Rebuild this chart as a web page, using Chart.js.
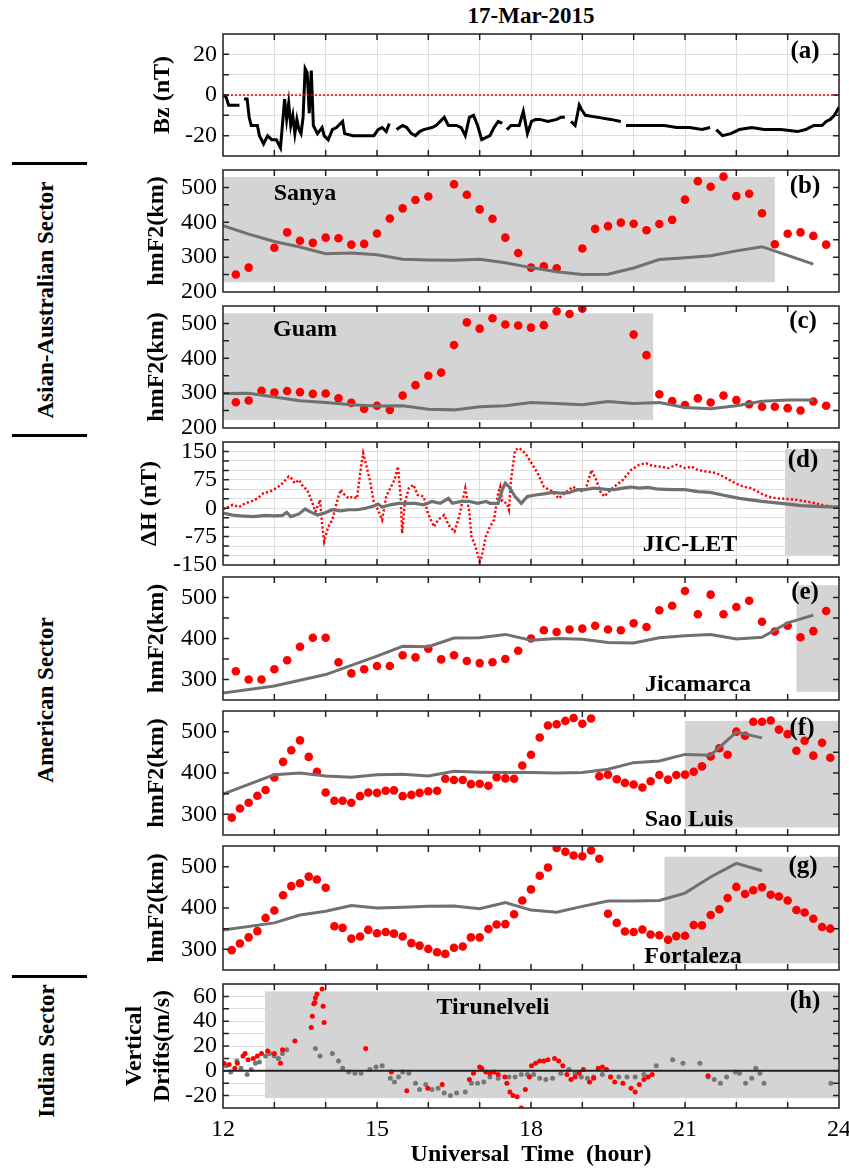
<!DOCTYPE html>
<html>
<head>
<meta charset="utf-8">
<script src="https://cdn.jsdelivr.net/npm/chart.js@4.4.1/dist/chart.umd.min.js"></script>
<style>
  body { margin: 0; background: #fff; }
  #page { position: relative; width: 849px; height: 1170px; font-family: 'Liberation Serif', 'Times New Roman', serif; overflow: hidden; }
  .panel { position: absolute; left: 120px; width: 729px; }
  .lbl { position: absolute; transform: translate(-50%, -50%); font-weight: bold; font-size: 24px; white-space: nowrap; color: #000; }
  .sector { transform: translate(-50%, -50%) rotate(-90deg); font-size: 23px; }
  .bar { position: absolute; left: 12px; width: 75px; height: 3px; background: #000; }
</style>
</head>
<body>
<div id="page">
  <div class="lbl" style="left:531px;top:16px;font-size:23px;">17-Mar-2015</div>

  <div class="bar" style="top:162px"></div>
  <div class="bar" style="top:434px"></div>
  <div class="bar" style="top:975px"></div>
  <div class="lbl sector" style="left:46px;top:300px;">Asian-Australian Sector</div>
  <div class="lbl sector" style="left:46px;top:700px;">American Sector</div>
  <div class="lbl sector" style="left:47px;top:1051px;">Indian Sector</div>

  <div class="panel" id="wrap-a"><canvas id="chart-a"></canvas></div>
  <div class="panel" id="wrap-b"><canvas id="chart-b"></canvas></div>
  <div class="panel" id="wrap-c"><canvas id="chart-c"></canvas></div>
  <div class="panel" id="wrap-d"><canvas id="chart-d"></canvas></div>
  <div class="panel" id="wrap-e"><canvas id="chart-e"></canvas></div>
  <div class="panel" id="wrap-f"><canvas id="chart-f"></canvas></div>
  <div class="panel" id="wrap-g"><canvas id="chart-g"></canvas></div>
  <div class="panel" id="wrap-h"><canvas id="chart-h"></canvas></div>

  <div class="lbl" style="left:805px;top:50px;font-size:25px;">(a)</div>
  <div class="lbl" style="left:805px;top:185px;font-size:25px;">(b)</div>
  <div class="lbl" style="left:803px;top:320px;font-size:25px;">(c)</div>
  <div class="lbl" style="left:803px;top:459px;font-size:25px;">(d)</div>
  <div class="lbl" style="left:805px;top:591px;font-size:25px;">(e)</div>
  <div class="lbl" style="left:802px;top:727px;font-size:25px;">(f)</div>
  <div class="lbl" style="left:803px;top:865px;font-size:25px;">(g)</div>
  <div class="lbl" style="left:805px;top:1000px;font-size:25px;">(h)</div>

  <div class="lbl" style="left:305px;top:192px;">Sanya</div>
  <div class="lbl" style="left:305px;top:328px;">Guam</div>
  <div class="lbl" style="left:690px;top:543px;">JIC-LET</div>
  <div class="lbl" style="left:698px;top:683px;">Jicamarca</div>
  <div class="lbl" style="left:689px;top:818px;">Sao Luis</div>
  <div class="lbl" style="left:693px;top:955px;">Fortaleza</div>
  <div class="lbl" style="left:493px;top:1006px;">Tirunelveli</div>
</div>

<script>
/* ── Data ── */

// (a) IMF Bz, nT (null = data gap)
const BZ_T = [12.00,12.06,12.11,12.27,12.32,12.36,12.41,12.47,12.51,12.55,12.67,12.71,12.79,12.87,12.95,13.04,13.08,13.12,
  13.20,13.24,13.28,13.32,13.36,13.40,13.44,13.48,13.52,13.56,13.60,13.64,13.68,13.72,13.76,13.84,13.93,13.97,
  14.05,14.13,14.21,14.29,14.33,14.37,14.53,14.69,14.86,14.94,15.02,15.10,15.18,15.24,15.30,15.38,15.50,15.58,
  15.67,15.75,15.83,15.91,16.07,16.15,16.31,16.39,16.47,16.55,16.64,16.72,16.80,16.88,16.96,17.04,17.12,17.20,
  17.28,17.36,17.44,17.48,17.53,17.61,17.69,17.77,17.85,17.93,18.01,18.09,18.17,18.33,18.50,18.58,18.66,18.72,
  18.78,18.86,18.94,18.98,19.06,19.31,19.55,19.75,19.80,19.85,19.95,20.20,20.36,20.60,20.84,21.09,21.33,21.49,
  21.55,21.61,21.73,21.89,22.06,22.30,22.54,22.87,23.19,23.35,23.51,23.67,23.75,23.83,23.91,24.00];
const BZ_V = [0,-1,-5,-5,-5,null,-2,-2,-11,-15,-15,-20,-24,-20,-22,-22,-24,-26,
  -2,-12,-4,-15,-10,-19,-12,-17,-19,-11,13,11,-9,12,-15,-19,-16,-20,
  -22,-17,-16,-14,-13,-19,-20,-20,-20,-20,-17,-16,-18,-14,null,-17,-15,-16,
  -19,-20,-18,-17,-16,-15,-11,-15,-15,-15,-16,-20,-11,-10,-15,-22,-21,-20,
  -16,-13,-14,null,-17,-15,-15,-15,-8,-19,-13,-12,-12,-13,-12,-11,-11,null,
  -13,-15,-5,-7,-10,-11,-12,-13,null,-15,-15,-15,-15,-15,-16,-16,-17,-16,
  null,-17,-20,-19,-17,-16,-17,-17,-18,-17,-15,-15,-13,-12,-10,-6];

// quarter-hour times used by Sanya, Guam, Jicamarca hmF2
const QT = [12.25,12.5,12.75,13,13.25,13.5,13.75,14,14.25,14.5,14.75,15,15.25,15.5,15.75,16,16.25,16.5,16.75,17,
  17.25,17.5,17.75,18,18.25,18.5,18.75,19,19.25,19.5,19.75,20,20.25,20.5,20.75,21,21.25,21.5,21.75,22,22.25,22.5,
  22.75,23,23.25,23.5,23.75];
// half-hour times for the quiet-day curves of Sanya and Guam
const HT = [12,12.5,13,13.5,14,14.5,15,15.5,16,16.5,17,17.5,18,18.5,19,19.5,20,20.5,21,21.5,22,22.5,23,23.5];

// (b) Sanya hmF2 (km)
const SANYA_STORM = [250,270,null,327,371,347,341,356,354,336,338,368,411,440,464,474,null,509,479,437,
  410,356,312,270,274,268,null,325,381,389,399,396,377,395,407,465,518,502,531,475,482,426,337,367,371,361,336];
const SANYA_QUIET = [390,366,345,329,310,312,307,294,292,291,294,284,270,258,250,251,269,293,298,304,318,330,305,280];

// (c) Guam hmF2 (km)
const GUAM_STORM = [274,279,307,302,306,303,298,299,285,272,255,264,252,293,323,350,359,438,503,485,
  515,497,494,488,495,535,527,542,null,null,null,468,409,297,277,266,285,273,293,280,268,261,261,257,250,276,264];
const GUAM_QUIET = [299,300,289,278,273,267,263,264,254,252,261,264,273,270,267,276,270,273,259,255,264,277,280,280];

// (d) Delta H JIC-LET (nT)
const DH_STORM_T = [12.00,12.11,12.19,12.31,12.43,12.55,12.67,12.79,12.91,13.04,13.16,13.28,13.33,13.40,13.48,13.56,13.64,13.72,
  13.80,13.89,13.93,13.97,14.05,14.13,14.21,14.29,14.37,14.45,14.53,14.61,14.69,14.73,14.78,14.86,14.94,15.02,
  15.10,15.18,15.26,15.34,15.41,15.46,15.49,15.54,15.62,15.71,15.79,15.91,15.99,16.11,16.19,16.31,16.39,16.51,
  16.60,16.72,16.76,16.80,16.84,16.92,17.00,17.04,17.12,17.20,17.28,17.36,17.40,17.44,17.53,17.57,17.61,17.69,
  17.77,17.85,17.93,18.01,18.13,18.25,18.42,18.54,18.66,18.82,18.94,19.06,19.18,19.27,19.35,19.43,19.55,19.67,
  19.79,19.95,20.11,20.24,20.36,20.52,20.68,20.84,21.00,21.13,21.25,21.41,21.61,21.81,21.98,22.14,22.30,22.46,
  22.62,22.78,22.95,23.19,23.43,23.67,23.84,24.00];
const DH_STORM_V = [-3,4,9,3,13,18,26,40,44,53,66,84,79,66,75,57,49,22,
  -9,22,-40,-88,-49,-31,13,49,35,26,31,26,110,146,119,75,13,-4,
  -31,31,53,75,110,31,-66,13,53,62,35,31,-13,-49,-31,-18,-44,-62,
  -22,53,22,-13,-75,-101,-141,-128,-75,-49,-31,40,57,18,13,-4,75,154,
  159,150,137,119,93,57,44,26,40,57,44,49,101,75,44,31,49,62,
  75,101,115,119,112,110,106,115,106,110,101,97,93,79,66,57,53,40,
  31,26,25,22,16,9,4,3];
const DH_QUIET_T = [12.00,12.19,12.35,12.59,12.83,13.00,13.16,13.24,13.32,13.48,13.60,13.72,13.84,13.97,14.13,14.29,14.45,14.61,
  14.78,14.94,15.02,15.10,15.26,15.42,15.58,15.75,15.91,16.07,16.23,16.39,16.47,16.64,16.80,16.96,17.12,17.20,
  17.36,17.44,17.50,17.57,17.69,17.81,17.93,18.09,18.25,18.42,18.58,18.74,18.90,19.06,19.22,19.47,19.63,19.79,
  19.95,20.11,20.28,20.44,20.60,20.84,21.00,21.25,21.49,21.73,22.06,22.46,22.87,23.27,23.67,24.00];
const DH_QUIET_V = [-13,-18,-20,-22,-19,-20,-19,-11,-22,-15,-2,-11,-18,-13,-4,-7,-4,-4,
  0,6,11,3,9,13,13,13,9,18,13,26,13,18,18,13,18,13,
  13,49,66,57,31,13,31,35,38,42,40,41,49,49,53,50,49,53,
  56,53,55,51,50,49,49,44,42,35,26,19,13,7,4,3];

// (e) Jicamarca hmF2 (km)
const JIC_STORM = [320,300,300,325,347,380,402,402,342,315,325,333,333,359,354,375,349,359,345,340,
  342,350,370,400,420,416,422,424,431,422,420,437,428,469,480,516,459,507,459,477,492,441,417,431,403,418,467];
const JIC_QUIET_T = [12,13,14,15,15.5,16,16.5,17,17.5,18,18.5,19,19.5,20,20.5,21,21.5,22,22.5,23,23.5];
const JIC_QUIET = [267,284,312,357,381,380,401,402,410,396,400,398,390,389,402,407,410,399,403,438,457];

// ten-minute times used by Sao Luis and Fortaleza hmF2
const TEN = [12.17,12.33,12.5,12.67,12.83,13,13.17,13.33,13.5,13.67,13.83,14,14.17,14.33,14.5,14.67,14.83,15,
  15.17,15.33,15.5,15.67,15.83,16,16.17,16.33,16.5,16.67,16.83,17,17.17,17.33,17.5,17.67,17.83,18,18.17,18.33,
  18.5,18.67,18.83,19,19.17,19.33,19.5,19.67,19.83,20,20.17,20.33,20.5,20.67,20.83,21,21.17,21.33,21.5,21.67,
  21.83,22,22.17,22.33,22.5,22.67,22.83,23,23.17,23.33,23.5,23.67,23.83];

// (f) Sao Luis hmF2 (km)
const SAO_STORM = [292,314,328,345,359,389,427,455,479,439,403,353,333,333,328,344,353,352,357,358,
  344,347,352,356,357,386,383,383,373,374,369,390,387,386,418,444,486,515,518,526,533,519,532,392,396,385,
  376,372,365,380,395,384,395,396,403,416,440,460,444,500,490,524,524,527,505,494,454,478,442,473,437];
const SAO_QUIET_T = [12,13,13.5,14,14.5,15,15.5,16,16.5,17,17.5,18,18.5,19,19.5,20,20.5,21,21.5,22,22.5];
const SAO_QUIET = [349,396,400,393,390,396,397,393,404,402,401,401,400,401,409,425,429,445,443,499,485];

// (g) Fortaleza hmF2 (km)
const FOR_STORM = [298,314,329,344,376,394,431,453,460,476,469,449,356,352,326,331,347,339,342,338,
  331,315,309,301,293,289,304,307,329,329,349,360,361,385,418,445,478,498,545,536,527,525,539,519,386,364,
  343,342,348,336,334,323,332,333,359,358,383,397,424,451,434,443,450,432,428,418,395,389,374,354,350];
const FOR_QUIET_T = [12,13,13.5,14,14.5,15,15.5,16,16.5,17,17.5,18,18.5,19,19.5,20,20.5,21,21.5,22,22.5];
const FOR_QUIET = [347,364,383,392,406,400,402,404,405,398,413,395,390,404,417,417,418,436,475,508,490];

// (h) Tirunelveli vertical drifts (m/s)
const VD_STORM_T = [12.02,12.12,12.23,12.28,12.39,12.43,12.49,12.59,12.67,12.75,12.87,13.00,13.12,13.16,13.40,13.72,13.74,
  13.77,13.79,13.80,13.83,13.93,13.95,13.97,14.78,15.28,15.58,15.99,16.27,16.80,16.88,17.00,17.04,17.12,17.20,
  17.28,17.36,17.49,17.53,17.59,17.65,17.73,17.81,17.89,17.97,18.01,18.09,18.17,18.25,18.33,18.46,18.54,18.62,
  18.70,18.78,18.86,18.94,19.02,19.14,19.22,19.31,19.39,19.47,19.55,19.63,19.79,19.95,20.03,20.11,20.20,20.28,
  20.36,21.45];
const VD_STORM_V = [6,5,2,6,12,14,9,10,12,14,16,14,6,17,24,35,44,
  54,55,59,62,66,52,39,18,-1,-16,-14,-11,-7,-2,3,2,-1,-2,
  -1,-3,-5,-10,-17,-20,-21,-30,-15,-5,4,6,8,8,9,10,8,4,
  -3,-7,-5,-2,1,-9,-6,2,3,1,-5,-9,-10,-14,-17,-11,-7,-5,
  -3,-4];
const VD_QUIET_T = [12.06,12.15,12.27,12.35,12.47,12.55,12.63,12.71,12.83,12.91,13.00,13.08,13.16,13.24,13.80,13.89,14.13,
  14.25,14.33,14.45,14.57,14.69,14.86,14.98,15.10,15.26,15.34,15.42,15.50,15.62,15.75,15.83,15.95,16.07,16.19,
  16.31,16.43,16.55,16.72,16.84,16.96,17.08,17.20,17.36,17.57,17.69,17.81,17.93,18.05,18.17,18.29,18.42,18.58,
  18.74,18.86,18.98,19.10,19.22,19.39,19.55,19.71,19.87,20.03,20.20,20.44,20.76,20.96,21.29,21.45,21.57,21.69,
  21.81,21.98,22.06,22.18,22.30,22.38,22.46,22.54,23.84];
const VD_QUIET_V = [4,-1,8,2,-3,1,6,7,12,14,12,10,14,17,18,12,14,
  8,2,-1,-2,-2,1,3,4,-6,-9,-5,-1,-2,-10,-15,-11,-15,-14,
  -18,-20,-18,-17,-10,-10,-9,-5,-6,-5,-5,-3,-3,-3,-6,-7,-6,-2,
  1,-2,-5,-6,-5,-3,-5,-5,-5,-5,-3,4,9,6,6,-5,-7,-10,
  -5,-1,-2,-10,-6,2,-2,-10,-10];

/* ── Styling helpers ── */
const SERIF = "'Liberation Serif', 'Times New Roman', serif";
const RED = '#ff0000';
const GRAY = '#707070';
const SHADE = '#d4d4d4';
const GRIDC = '#dedede';

function toXY(times, vals) {
  return times.map((t, i) => ({ x: t, y: vals[i] }));
}

function dots(times, vals, r, color, order) {
  return { data: toXY(times, vals), showLine: false, pointRadius: r, pointHoverRadius: r,
    backgroundColor: color, borderWidth: 0, pointBorderWidth: 0, order };
}

function line(times, vals, color, width, order, dash) {
  return { data: toXY(times, vals), showLine: true, pointRadius: 0, borderColor: color,
    borderWidth: width, borderDash: dash || [], spanGaps: false, tension: 0, order };
}

// shaded boxes, zero line, frame and inward ticks
const panelDeco = {
  id: 'panelDeco',
  beforeDatasetsDraw(chart, args, opts) {
    const { ctx, scales: { x, y } } = chart;
    ctx.save();
    (opts.shade || []).forEach(s => {
      const x0 = x.getPixelForValue(s[0]), x1 = x.getPixelForValue(s[1]);
      const y0 = y.getPixelForValue(s[3]), y1 = y.getPixelForValue(s[2]);
      ctx.fillStyle = SHADE;
      ctx.fillRect(x0, y0, x1 - x0, y1 - y0);
    });
    ctx.restore();
  },
  afterDatasetsDraw(chart, args, opts) {
    const { ctx, chartArea: a, scales: { x, y } } = chart;
    ctx.save();
    if (opts.zero) {
      const py = y.getPixelForValue(0);
      ctx.strokeStyle = opts.zero.color;
      ctx.lineWidth = opts.zero.width;
      ctx.setLineDash(opts.zero.dash || []);
      ctx.beginPath(); ctx.moveTo(a.left, py); ctx.lineTo(a.right, py); ctx.stroke();
      ctx.setLineDash([]);
    }
    ctx.strokeStyle = '#222';
    ctx.lineWidth = 1.5;
    ctx.strokeRect(a.left, a.top, a.right - a.left, a.bottom - a.top);
    const L = 6;
    ctx.beginPath();
    x.ticks.forEach(t => {
      const px = x.getPixelForValue(t.value);
      if (px <= a.left + 1 || px >= a.right - 1) return;
      ctx.moveTo(px, a.bottom); ctx.lineTo(px, a.bottom - L);
      ctx.moveTo(px, a.top); ctx.lineTo(px, a.top + L);
    });
    y.ticks.forEach(t => {
      const py = y.getPixelForValue(t.value);
      if (py <= a.top + 1 || py >= a.bottom - 1) return;
      ctx.moveTo(a.left, py); ctx.lineTo(a.left + L, py);
      ctx.moveTo(a.right, py); ctx.lineTo(a.right - L, py);
    });
    ctx.stroke();
    ctx.restore();
  }
};

function makePanel(key, p) {
  const wrap = document.getElementById('wrap-' + key);
  const last = !!p.bottomAxis;
  const top = p.top - 16;
  const height = last ? 1170 - top : (p.bottom - p.top) + 32;
  wrap.style.top = top + 'px';
  wrap.style.height = height + 'px';

  const xScale = {
    type: 'linear', min: 12, max: 24,
    afterFit: s => { s.height = last ? 62 : 0; s.paddingLeft = 0; s.paddingRight = 0; },
    border: { display: false },
    grid: { display: !!p.grid, color: GRIDC, drawTicks: false, lineWidth: 1 },
    ticks: {
      stepSize: 1, autoSkip: false, maxRotation: 0, display: last, padding: 7,
      color: '#000', font: { family: SERIF, size: 24 },
      callback: v => (v % 3 === 0 ? v : '')
    },
    title: {
      display: last, text: 'Universal  Time  (hour)', color: '#000',
      font: { family: SERIF, size: 24, weight: 'bold' }, padding: { top: 0, bottom: 1 }
    }
  };

  const yScale = {
    type: 'linear', min: p.ymin, max: p.ymax,
    afterFit: s => { s.width = 103; s.paddingTop = 0; s.paddingBottom = 0; },
    border: { display: false },
    grid: { display: !!p.grid, color: GRIDC, drawTicks: false, lineWidth: 1 },
    ticks: {
      stepSize: p.step, autoSkip: false, padding: 6, color: '#000', font: { family: SERIF, size: 24 },
      callback: v => (Math.abs(v % p.labelEvery) < 1e-9 ? v : '')
    },
    title: {
      display: true, text: p.title, color: '#000',
      font: { family: SERIF, size: 24, weight: 'bold', lineHeight: 1.2 },
      padding: { top: p.titlePad, bottom: 0 }
    }
  };

  return new Chart(document.getElementById('chart-' + key), {
    type: 'scatter',
    data: { datasets: p.datasets },
    options: {
      responsive: true, maintainAspectRatio: false, animation: false,
      events: [],
      layout: { padding: { top: 16, bottom: last ? 0 : 16, left: 0, right: 10 } },
      plugins: {
        legend: { display: false }, tooltip: { enabled: false },
        panelDeco: { shade: p.shade, zero: p.zero }
      },
      scales: { x: xScale, y: yScale }
    },
    plugins: [panelDeco]
  });
}

makePanel('a', {
  top: 34, bottom: 156, ymin: -30, ymax: 30, step: 10, labelEvery: 20, grid: true,
  title: 'Bz (nT)', titlePad: 28,
  zero: { color: '#e00000', width: 1.5, dash: [2, 2] },
  datasets: [line(BZ_T, BZ_V, '#000', 3, 0)]
});

makePanel('b', {
  top: 170, bottom: 292, ymin: 200, ymax: 550, step: 50, labelEvery: 100,
  title: 'hmF2(km)', titlePad: 22,
  shade: [[12, 22.75, 228, 530]],
  datasets: [line(HT, SANYA_QUIET, GRAY, 3, 0), dots(QT, SANYA_STORM, 4.3, RED, 1)]
});

makePanel('c', {
  top: 306, bottom: 428, ymin: 200, ymax: 550, step: 50, labelEvery: 100,
  title: 'hmF2(km)', titlePad: 22,
  shade: [[12, 20.38, 223, 529]],
  datasets: [line(HT, GUAM_QUIET, GRAY, 3, 0), dots(QT, GUAM_STORM, 4.3, RED, 1)]
});

makePanel('d', {
  top: 442, bottom: 565, ymin: -150, ymax: 175, step: 25, labelEvery: 75, grid: true,
  title: 'ΔH (nT)', titlePad: 15,
  shade: [[22.95, 24, -124, 157]],
  datasets: [line(DH_QUIET_T, DH_QUIET_V, GRAY, 3.2, 0), line(DH_STORM_T, DH_STORM_V, RED, 2.4, 1, [2.2, 2.2])]
});

makePanel('e', {
  top: 577, bottom: 700, ymin: 250, ymax: 550, step: 50, labelEvery: 100,
  title: 'hmF2(km)', titlePad: 22,
  shade: [[23.17, 24, 270, 530]],
  datasets: [line(JIC_QUIET_T, JIC_QUIET, GRAY, 3, 0), dots(QT, JIC_STORM, 4.3, RED, 1)]
});

makePanel('f', {
  top: 711, bottom: 835, ymin: 250, ymax: 550, step: 50, labelEvery: 100,
  title: 'hmF2(km)', titlePad: 22,
  shade: [[21.0, 24, 268, 526]],
  datasets: [line(SAO_QUIET_T, SAO_QUIET, GRAY, 3, 0), dots(TEN, SAO_STORM, 4.3, RED, 1)]
});

makePanel('g', {
  top: 846, bottom: 970, ymin: 250, ymax: 550, step: 50, labelEvery: 100,
  title: 'hmF2(km)', titlePad: 22,
  shade: [[20.6, 24, 266, 524]],
  datasets: [line(FOR_QUIET_T, FOR_QUIET, GRAY, 3, 0), dots(TEN, FOR_STORM, 4.3, RED, 1)]
});

makePanel('h', {
  top: 984, bottom: 1108, ymin: -30, ymax: 70, step: 10, labelEvery: 20, grid: true,
  title: ['Vertical', 'Drifts(m/s)'], titlePad: 0, bottomAxis: true,
  shade: [[12.82, 24, -22, 64]],
  zero: { color: '#222', width: 2 },
  datasets: [dots(VD_STORM_T, VD_STORM_V, 2.5, RED, 0), dots(VD_QUIET_T, VD_QUIET_V, 2.5, '#777', 1)]
});
</script>
</body>
</html>
